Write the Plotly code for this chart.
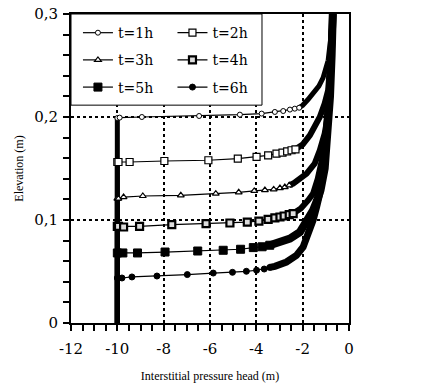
import plotly.graph_objects as go

# ---------------- data ----------------
series_names = ["t=1h", "t=2h", "t=3h", "t=4h", "t=5h", "t=6h"]

# elevation of the wetting front (top of the vertical part at -10 m)
front_y = [0.199, 0.1563, 0.1208, 0.0939, 0.068, 0.0437]

# sparse marker points (flat part of each profile)
t1_x = [-10.0, -9.90, -8.94, -6.47, -4.71, -3.77, -3.20, -2.84, -2.55, -2.34, -2.15]
t1_y = [0.199, 0.1994, 0.2000, 0.2010, 0.2023, 0.2033, 0.2049, 0.2058, 0.2072, 0.2081, 0.2090]
t2_x = [-10.0, -9.95, -9.47, -7.97, -6.07, -4.80, -3.99, -3.49, -3.13, -2.87, -2.67, -2.48, -2.31]
t2_y = [0.1563, 0.1563, 0.1563, 0.1573, 0.1580, 0.1596, 0.1612, 0.1628, 0.1645, 0.1654, 0.1667, 0.1677, 0.1686]
t3_x = [-10.0, -9.95, -9.73, -8.90, -7.26, -5.75, -4.76, -4.09, -3.63, -3.25, -2.98, -2.77, -2.58]
t3_y = [0.1208, 0.1208, 0.1223, 0.1233, 0.1240, 0.1256, 0.1269, 0.1282, 0.1291, 0.1297, 0.1310, 0.1320, 0.1337]
t4_x = [-10.0, -9.95, -9.73, -9.04, -7.65, -6.17, -5.14, -4.39, -3.89, -3.49, -3.20, -2.98, -2.80, -2.58, -2.41]
t4_y = [0.0939, 0.0939, 0.0932, 0.0939, 0.0955, 0.0965, 0.0971, 0.0980, 0.0990, 0.1007, 0.1020, 0.1029, 0.1039, 0.1052, 0.1062]
t5_x = [-10.0, -9.76, -9.13, -7.94, -6.53, -5.43, -4.68, -4.13, -3.75, -3.42]
t5_y = [0.068, 0.0680, 0.0680, 0.0689, 0.0699, 0.0706, 0.0716, 0.0732, 0.0740, 0.0755]
t6_x = [-10.0, -9.80, -9.37, -8.29, -6.98, -5.86, -5.03, -4.43, -3.99, -3.66, -3.42]
t6_y = [0.0437, 0.0437, 0.0447, 0.0456, 0.0470, 0.0485, 0.0492, 0.0502, 0.0512, 0.0524, 0.0540]

# dense part of each profile (nodes so close that markers merge)
t1_dx = [-2.15, -2.0, -1.77, -1.52, -1.30, -1.12, -0.90, -0.78, -0.72]
t1_dy = [0.2090, 0.2114, 0.2170, 0.2230, 0.2300, 0.2380, 0.2550, 0.2780, 0.3000]
t2_dx = [-2.31, -2.17, -2.0, -1.69, -1.48, -1.26, -1.05, -0.90, -0.80, -0.73]
t2_dy = [0.1686, 0.1703, 0.1732, 0.1822, 0.1900, 0.2000, 0.2130, 0.2260, 0.2550, 0.3000]
t3_dx = [-2.58, -2.41, -1.83, -1.48, -1.26, -1.05, -0.87, -0.78, -0.72]
t3_dy = [0.1337, 0.1353, 0.1450, 0.1548, 0.1677, 0.1840, 0.2065, 0.2500, 0.3000]
t4_dx = [-2.41, -2.27, -2.08, -1.77, -1.55, -1.35, -1.15, -1.00, -0.88, -0.78, -0.71]
t4_dy = [0.1062, 0.1078, 0.1111, 0.1190, 0.1256, 0.1400, 0.1600, 0.1850, 0.2150, 0.2550, 0.3000]
t5_dx = [-3.42, -3.13, -2.55, -2.12, -1.77, -1.55, -1.38, -1.23, -1.05, -0.92, -0.82, -0.75, -0.70]
t5_dy = [0.0755, 0.0771, 0.0820, 0.0883, 0.0997, 0.1094, 0.1190, 0.1290, 0.1500, 0.1800, 0.2200, 0.2600, 0.3000]
t6_dx = [-3.42, -3.20, -2.70, -2.27, -1.98, -1.74, -1.55, -1.40, -1.26, -1.10, -0.97, -0.86, -0.77, -0.68]
t6_dy = [0.0540, 0.0550, 0.0592, 0.0657, 0.0738, 0.0868, 0.0997, 0.1126, 0.1256, 0.1500, 0.1800, 0.2200, 0.2600, 0.3000]

x_tick_vals = [-12, -10, -8, -6, -4, -2, 0]
x_tick_text = ["-12", "-10", "-8", "-6", "-4", "-2", "0"]
y_tick_vals = [0, 0.1, 0.2, 0.3]
y_tick_text = ["0", "0,1", "0,2", "0,3"]
bar_base = 0.0
bar_x = -10.0

# ---------------- styles ----------------
marker_styles = [
    dict(symbol="circle", size=5, color="white", line=dict(color="black", width=1)),
    dict(symbol="square", size=7, color="white", line=dict(color="black", width=1.2)),
    dict(symbol="triangle-up", size=6, color="white", line=dict(color="black", width=1.2)),
    dict(symbol="square", size=7, color="#dddddd", line=dict(color="black", width=2.2)),
    dict(symbol="square", size=8, color="black", line=dict(color="black", width=1)),
    dict(symbol="circle", size=6, color="black", line=dict(color="black", width=1)),
]
dense_widths = [5, 6, 6, 6, 8, 7]
legend_ids = ["legend", "legend2", "legend", "legend2", "legend", "legend2"]

sparse = [(t1_x, t1_y), (t2_x, t2_y), (t3_x, t3_y), (t4_x, t4_y), (t5_x, t5_y), (t6_x, t6_y)]
dense = [(t1_dx, t1_dy), (t2_dx, t2_dy), (t3_dx, t3_dy), (t4_dx, t4_dy), (t5_dx, t5_dy), (t6_dx, t6_dy)]

fig = go.Figure()

# thick vertical part at -10 m (below each wetting front)
for i, fy in enumerate(front_y):
    fig.add_trace(go.Scatter(x=[bar_x, bar_x], y=[bar_base, fy], mode="lines",
                             line=dict(color="black", width=5), showlegend=False,
                             hoverinfo="skip"))

# dense parts
for i, (dx, dy) in enumerate(dense):
    fig.add_trace(go.Scatter(x=dx, y=dy, mode="lines",
                             line=dict(color="black", width=dense_widths[i]),
                             showlegend=False, hoverinfo="skip"))

# sparse marker parts (carry the legend)
for i, (sx, sy) in enumerate(sparse):
    fig.add_trace(go.Scatter(x=sx, y=sy, mode="lines+markers", name=series_names[i],
                             line=dict(color="black", width=1.2),
                             marker=marker_styles[i],
                             legend=legend_ids[i], legendgroup=series_names[i]))

font_serif = "DejaVu Serif"
legend_common = dict(bgcolor="rgba(0,0,0,0)", borderwidth=0, tracegroupgap=6,
                     font=dict(family=font_serif, size=14, color="black"),
                     xanchor="left", yanchor="top", itemwidth=30)

fig.update_layout(
    width=421, height=392,
    margin=dict(l=71, r=72, t=14, b=69, autoexpand=False),
    paper_bgcolor="white", plot_bgcolor="white",
    showlegend=True,
    legend=dict(x=0.025, y=0.99, **legend_common),
    legend2=dict(x=0.365, y=0.99, **legend_common),
    shapes=[dict(type="rect", xref="paper", yref="paper", x0=0.0, x1=0.687,
                 y0=0.705, y1=1.0, line=dict(color="black", width=1),
                 fillcolor="white", layer="above")],
    xaxis=dict(range=[-12, 0], tickvals=x_tick_vals, ticktext=x_tick_text,
               automargin=False, ticklabelstandoff=5,
               ticks="outside", ticklen=6, tickwidth=1.5, tickcolor="black",
               showline=True, linecolor="black", linewidth=2, mirror=True,
               showgrid=True, gridcolor="black", gridwidth=1.5, griddash="dot",
               zeroline=False,
               minor=dict(dtick=0.5, ticks="outside", ticklen=6, tickwidth=1.5,
                          tickcolor="black", showgrid=False),
               tickfont=dict(family=font_serif, size=15, color="black"),
               title=dict(text="Interstitial pressure head (m)",
                          font=dict(family="Liberation Serif", size=12, color="black"),
                          standoff=15)),
    yaxis=dict(range=[0, 0.3], tickvals=y_tick_vals, ticktext=y_tick_text,
               automargin=False, ticklabelstandoff=2,
               ticks="outside", ticklen=6, tickwidth=1.5, tickcolor="black",
               showline=True, linecolor="black", linewidth=2, mirror=True,
               showgrid=True, gridcolor="black", gridwidth=1.5, griddash="dot",
               zeroline=False,
               minor=dict(dtick=0.02, ticks="outside", ticklen=6, tickwidth=1.5,
                          tickcolor="black", showgrid=False),
               tickfont=dict(family=font_serif, size=15, color="black"),
               title=dict(text="Elevation (m)",
                          font=dict(family="Liberation Serif", size=12, color="black"),
                          standoff=8)),
)

fig.write_html("out.html", config={"displayModeBar": False},
               post_script="document.body.style.margin='0';document.body.style.overflow='hidden';")
